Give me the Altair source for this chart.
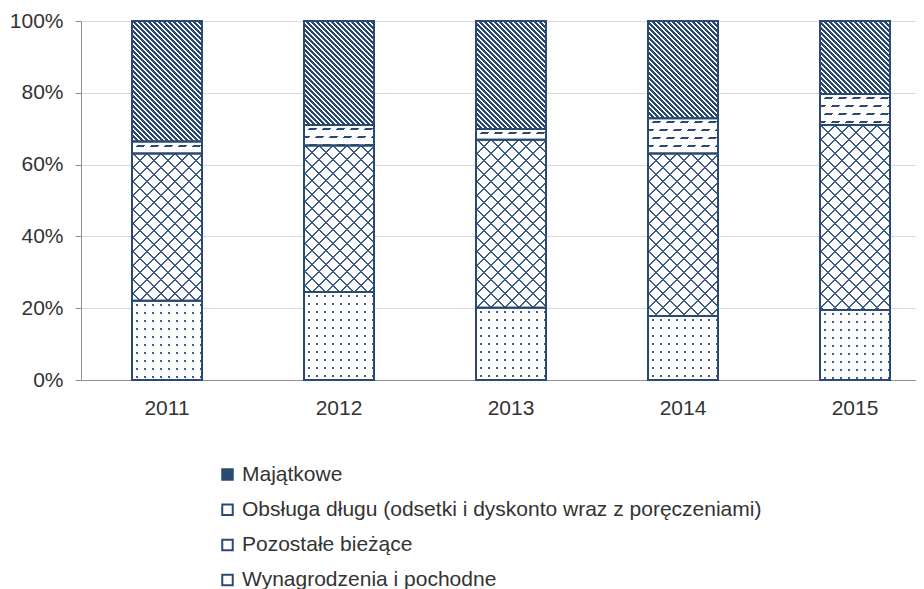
import math
import altair as alt
import pandas as pd

# ---------------- data ----------------
years = ["2011", "2012", "2013", "2014", "2015"]
cat_w = "Wynagrodzenia i pochodne"
cat_p = "Pozostałe bieżące"
cat_o = "Obsługa długu (odsetki i dyskonto wraz z poręczeniami)"
cat_m = "Majątkowe"
stack_order = [cat_w, cat_p, cat_o, cat_m]
legend_order = [cat_m, cat_o, cat_p, cat_w]

wynagrodzenia = [22.1, 24.5, 20.1, 17.8, 19.5]
pozostale = [41.0, 40.8, 46.8, 45.3, 51.5]
obsluga = [3.3, 5.7, 3.0, 9.8, 8.7]
majatkowe = [33.6, 29.0, 30.1, 27.1, 20.3]
y_ticks = [0, 20, 40, 60, 80, 100]

series = {cat_w: wynagrodzenia, cat_p: pozostale, cat_o: obsluga, cat_m: majatkowe}
codes = {cat_w: "W", cat_p: "P", cat_o: "O", cat_m: "M"}

rows = []
for i, yr in enumerate(years):
    cum = 0.0
    for c in stack_order:
        v = series[c][i]
        rows.append({"year": yr, "category": c, "code": codes[c], "value": v,
                     "start": round(cum, 4), "end": round(cum + v, 4),
                     "key": yr + codes[c]})
        cum += v
df = pd.DataFrame(rows)

# ---------------- layout / style ----------------
PLOT_W, PLOT_H = 835, 359
X_RANGE = 860.0
BAR_W = 70.0
STEP = X_RANGE / len(years)
P_INNER = 1 - BAR_W / STEP
NAVY = "#2b4a72"
LATTICE = "#3d5b85"
DOT = "#3f5f8a"
CLEAR = "rgba(255,255,255,0)"
TEXT = "#333333"
FONT = "Liberation Sans"
LAT_P = 14.0            # lattice period (px)
LAT_ON = 2.0            # lattice line width along the gradient (px)
PIECE_PX = 3 * LAT_P    # lattice tile height (px)

# split the "Pozostałe" segments into tiles so the lattice gradients stay short
piece_val = PIECE_PX / PLOT_H * 100
pieces = []
for r in rows:
    if r["code"] != "P":
        continue
    h = r["value"] / 100.0 * PLOT_H
    n = int(math.floor(h / PIECE_PX))
    for j in range(n):
        top = r["end"] - j * piece_val
        pieces.append({"year": r["year"], "key": r["key"] + "f" + str(j), "kind": "full",
                       "start": round(top - piece_val, 4), "end": round(top, 4), "hpx": PIECE_PX})
    rem = h - n * PIECE_PX
    if rem > 0.3:
        pieces.append({"year": r["year"], "key": r["key"] + "r", "kind": "rem",
                       "start": r["start"], "end": round(r["end"] - n * piece_val, 4),
                       "hpx": rem})
pieces_df = pd.DataFrame(pieces)


def stripe_gradient(w, h, alpha, beta, period, on, on_color, off_color, phase=0.0):
    """Linear gradient (objectBoundingBox) giving stripes of constant pixel
    period along s = alpha*x + beta*y on a w x h rectangle."""
    smin = min(0, alpha * w) + min(0, beta * h)
    smax = max(0, alpha * w) + max(0, beta * h)
    L = smax - smin
    a = L / (alpha ** 2 * w ** 2 + beta ** 2 * h ** 2)
    u1 = 0 if alpha >= 0 else 1
    v1 = 0 if beta >= 0 else 1
    u2 = u1 + a * alpha * w
    v2 = v1 + a * beta * h
    stops = []
    phase = phase % period
    k = -1
    while True:
        s0 = k * period + phase
        if s0 >= L:
            break
        for lo0, hi0, col in ((s0, s0 + on, on_color), (s0 + on, s0 + period, off_color)):
            lo, hi = max(lo0, 0.0), min(hi0, L)
            if hi > lo:
                stops.append({"offset": round(lo / L, 6), "color": col})
                stops.append({"offset": round(hi / L, 6), "color": col})
        k += 1
    return {"gradient": "linear", "x1": u1, "y1": v1,
            "x2": round(u2, 6), "y2": round(v2, 6), "stops": stops}


x_enc = alt.X("year:N",
              scale=alt.Scale(domain=years, range=[0, X_RANGE],
                              paddingInner=P_INNER, paddingOuter=P_INNER / 2),
              axis=alt.Axis(title=None, labelAngle=0, labelFontSize=21,
                            labelFont=FONT, labelColor=TEXT, labelPadding=17,
                            ticks=False, grid=False, domainColor="#8f8f8f",
                            domainWidth=1))
y_enc = alt.Y("end:Q",
              scale=alt.Scale(domain=[0, 100], nice=False),
              axis=alt.Axis(title=None, values=y_ticks,
                            labelExpr="datum.value + '%'", labelFontSize=21,
                            labelFont=FONT, labelColor=TEXT, labelPadding=12,
                            tickSize=6, tickColor="#8f8f8f", domainColor="#8f8f8f",
                            gridColor="#d9d9d9", gridWidth=1))
y2_enc = alt.Y2("start:Q")

base = alt.Chart(df).encode(x=x_enc, y=y_enc, y2=y2_enc)
pbase = alt.Chart(pieces_df).encode(x=x_enc, y=y_enc, y2=y2_enc)

layers = []
layers.append(base.transform_filter(alt.FieldOneOfPredicate(field="code", oneOf=["O", "P"]))
              .mark_bar(fill="white"))
layers.append(base.transform_filter(alt.FieldEqualPredicate(field="code", equal="W"))
              .mark_bar(fill=DOT))

for r in rows:
    h = r["value"] / 100.0 * PLOT_H
    grads = []
    if r["code"] == "M":
        grads.append(stripe_gradient(BAR_W, h, 1, -1, 5.0, 3.0, NAVY, "white"))
    elif r["code"] == "O":
        grads.append(stripe_gradient(BAR_W, h, 0, 1, 8.0, 2.0, NAVY, CLEAR, phase=3.0))
        grads.append(stripe_gradient(BAR_W, h, 1, 0.875, 14.0, 6.0, "white", CLEAR, phase=2.0))
    elif r["code"] == "W":
        grads.append(stripe_gradient(BAR_W, h, 0, 1, 8.0, 6.0, "white", CLEAR, phase=-3.0))
        grads.append(stripe_gradient(BAR_W, h, 1, 0, 8.0, 6.0, "white", CLEAR, phase=-2.0))
    for g in grads:
        layers.append(base.transform_filter(alt.FieldEqualPredicate(field="key", equal=r["key"]))
                      .mark_bar(fill=g))

# lattice ("Pozostałe bieżące"): full tiles share one gradient pair
full = pbase.transform_filter(alt.FieldEqualPredicate(field="kind", equal="full"))
layers.append(full.mark_bar(fill=stripe_gradient(BAR_W, PIECE_PX, 1, -1, LAT_P, LAT_ON, LATTICE, CLEAR, phase=0.0)))
layers.append(full.mark_bar(fill=stripe_gradient(BAR_W, PIECE_PX, 1, 1, LAT_P, LAT_ON, LATTICE, CLEAR, phase=0.0)))
for pc in pieces:
    if pc["kind"] != "rem":
        continue
    hs = pc["hpx"]
    sel = pbase.transform_filter(alt.FieldEqualPredicate(field="key", equal=pc["key"]))
    layers.append(sel.mark_bar(fill=stripe_gradient(BAR_W, hs, 1, -1, LAT_P, LAT_ON, LATTICE, CLEAR, phase=hs)))
    layers.append(sel.mark_bar(fill=stripe_gradient(BAR_W, hs, 1, 1, LAT_P, LAT_ON, LATTICE, CLEAR, phase=0.0)))

layers.append(base.mark_bar(fill="transparent", stroke=NAVY, strokeWidth=2))

legend_layer = (alt.Chart(df)
                .transform_filter("datum.value < 0")
                .mark_square(stroke=NAVY, strokeWidth=2, opacity=1)
                .encode(fill=alt.Fill("category:N",
                                      scale=alt.Scale(domain=legend_order,
                                                      range=[NAVY, "white", "white", "white"]),
                                      legend=alt.Legend(title=None, orient="none",
                                                        legendX=136, legendY=443,
                                                        direction="vertical",
                                                        symbolType="square", symbolSize=110,
                                                        symbolStrokeColor=NAVY,
                                                        symbolStrokeWidth=2,
                                                        symbolOpacity=1,
                                                        labelFontSize=21, labelFont=FONT,
                                                        labelColor=TEXT, labelLimit=0,
                                                        labelOffset=4, rowPadding=13.2,
                                                        padding=0))))
layers.append(legend_layer)

chart = (alt.layer(*layers)
         .properties(width=PLOT_W, height=PLOT_H,
                     autosize=alt.AutoSizeParams(type="none"),
                     padding={"left": 73, "top": 13, "right": 0, "bottom": 209})
         .configure(font=FONT)
         .configure_view(stroke=None))

chart.save("out.html", embed_options={"renderer": "svg", "actions": False})
